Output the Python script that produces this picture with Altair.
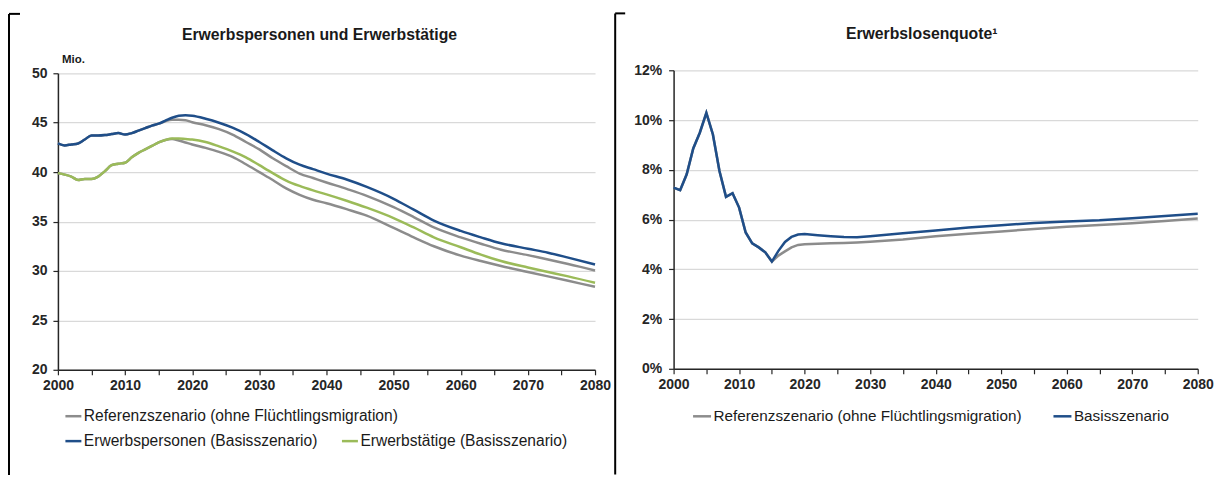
import altair as alt
import pandas as pd

# ---------------- data ----------------
years_left = list(range(2000, 2021)) + [2022, 2024, 2026, 2028, 2030, 2032, 2034, 2036, 2038,
                                        2040, 2043, 2046, 2050, 2053, 2056, 2060, 2063, 2066,
                                        2070, 2073, 2076, 2080]

erwerbspersonen_basis = [42.9, 42.7, 42.8, 42.9, 43.3, 43.7, 43.7, 43.75, 43.85, 43.95, 43.8,
                         43.95, 44.2, 44.45, 44.7, 44.9, 45.2, 45.5, 45.7, 45.75, 45.7,
                         45.4, 45.0, 44.5, 43.85, 43.05, 42.2, 41.4, 40.75, 40.3,
                         39.85, 39.25, 38.5, 37.3, 36.2, 35.1, 34.05, 33.4, 32.8,
                         32.25, 31.85, 31.35, 30.65]

erwerbspersonen_ref = [42.9, 42.7, 42.8, 42.9, 43.3, 43.7, 43.7, 43.75, 43.85, 43.95, 43.8,
                       43.95, 44.2, 44.45, 44.7, 44.9, 45.15, 45.3, 45.3, 45.25, 45.05,
                       44.75, 44.35, 43.8, 43.05, 42.3, 41.4, 40.6, 39.85, 39.4,
                       38.95, 38.3, 37.6, 36.45, 35.45, 34.4, 33.4, 32.75, 32.15,
                       31.6, 31.15, 30.7, 30.05]

erwerbstaetige_basis = [39.9, 39.75, 39.55, 39.2, 39.3, 39.3, 39.55, 40.1, 40.7, 40.85, 40.95,
                        41.5, 41.95, 42.3, 42.65, 43.0, 43.25, 43.4, 43.4, 43.35, 43.3,
                        43.05, 42.6, 42.1, 41.5, 40.7, 39.9, 39.15, 38.6, 38.15,
                        37.75, 37.1, 36.4, 35.35, 34.4, 33.4, 32.4, 31.65, 31.0,
                        30.35, 29.9, 29.45, 28.8]

erwerbstaetige_ref = [39.9, 39.75, 39.55, 39.2, 39.3, 39.3, 39.55, 40.1, 40.7, 40.85, 40.95,
                      41.5, 41.95, 42.3, 42.65, 43.0, 43.25, 43.35, 43.2, 43.0, 42.8,
                      42.45, 42.05, 41.55, 40.8, 40.0, 39.2, 38.35, 37.7, 37.2,
                      36.85, 36.25, 35.6, 34.35, 33.4, 32.5, 31.55, 31.0, 30.5,
                      29.9, 29.45, 29.0, 28.4]

years_right = list(range(2000, 2021)) + [2022, 2024, 2026, 2028] + list(range(2030, 2081, 5))

quote_basis = [7.28, 7.18, 7.82, 8.86, 9.49, 10.29, 9.42, 7.95, 6.91, 7.06, 6.48,
               5.48, 5.04, 4.88, 4.68, 4.31, 4.74, 5.1, 5.3, 5.4, 5.42,
               5.37, 5.33, 5.3, 5.29,
               5.33, 5.45, 5.56, 5.68, 5.77, 5.86, 5.92, 5.97, 6.05, 6.14, 6.23]

quote_ref = [7.28, 7.18, 7.82, 8.86, 9.49, 10.29, 9.42, 7.95, 6.91, 7.06, 6.48,
             5.48, 5.04, 4.88, 4.68, 4.31, 4.55, 4.72, 4.88, 4.98, 5.01,
             5.03, 5.05, 5.06, 5.08,
             5.11, 5.2, 5.33, 5.43, 5.52, 5.62, 5.71, 5.78, 5.85, 5.94, 6.04]

left_title = "Erwerbspersonen und Erwerbstätige"
right_title = "Erwerbslosenquote\u00b9"
unit_label = "Mio."
ref_label = "Referenzszenario (ohne Flüchtlingsmigration)"
ep_label = "Erwerbspersonen (Basisszenario)"
et_label = "Erwerbstätige (Basisszenario)"
basis_label = "Basisszenario"

x_ticks = list(range(2000, 2081, 5))
left_y_ticks = [20, 25, 30, 35, 40, 45, 50]
right_y_ticks = [0, 2, 4, 6, 8, 10, 12]

# ---------------- styles ----------------
FONT = "Liberation Sans"
BLUE = "#1f4e89"
GREEN = "#9bbb59"
GREY = "#8c8c8c"
AXIS = "#262626"
GRID = "#d9d9d9"

# ---------------- tables ----------------
ref_left = pd.DataFrame({
    "year": years_left * 2,
    "value": erwerbspersonen_ref + erwerbstaetige_ref,
    "series": ["ref_ep"] * len(years_left) + ["ref_et"] * len(years_left),
    "lref": [ref_label] * (2 * len(years_left)),
})
basis_left = pd.DataFrame({
    "year": years_left * 2,
    "value": erwerbspersonen_basis + erwerbstaetige_basis,
    "lbasis": [ep_label] * len(years_left) + [et_label] * len(years_left),
})
ref_right = pd.DataFrame({"year": years_right, "value": quote_ref,
                          "lquote": [ref_label] * len(years_right)})
basis_right = pd.DataFrame({"year": years_right, "value": quote_basis,
                            "lquote": [basis_label] * len(years_right)})


def x_axis():
    return alt.Axis(values=x_ticks, format="d",
                    labelExpr="datum.value % 10 == 0 ? datum.label : ''",
                    grid=False, tickSize=5, tickColor=AXIS, tickWidth=1.2,
                    domainColor=AXIS, domainWidth=1.5,
                    labelFont=FONT, labelFontSize=14, labelFontWeight="bold",
                    labelColor=AXIS, labelPadding=4, labelFlush=False,
                    labelOverlap=False, title=None)


def y_axis(values, expr=None, pad=6):
    kw = dict(values=values, grid=True, gridColor=GRID, gridWidth=1.2,
              tickSize=5, tickColor=AXIS, tickWidth=1.2,
              domainColor=AXIS, domainWidth=1.5,
              labelFont=FONT, labelFontSize=14, labelFontWeight="bold",
              labelColor=AXIS, labelPadding=pad, labelOverlap=False, title=None)
    if expr:
        kw["labelExpr"] = expr
    return alt.Axis(**kw)


def legend(x, y, size, colpad, fsize=15.6):
    return alt.Legend(orient="none", legendX=x, legendY=y, direction="horizontal",
                      title=None, symbolType="stroke", symbolSize=size,
                      symbolStrokeWidth=2.5, labelFont=FONT, labelFontSize=fsize,
                      labelColor="#1a1a1a", labelOffset=1, columnPadding=colpad,
                      labelLimit=0, padding=0)


def text_layer(txt, x, y, size, weight="bold", align="center"):
    return alt.Chart(pd.DataFrame({"t": [txt]})).mark_text(
        font=FONT, fontSize=size, fontWeight=weight, color="#1a1a1a",
        align=align, baseline="alphabetic").encode(
        text="t:N", x=alt.value(x), y=alt.value(y))


def bracket(xv, ytop, ybot, xend):
    d = pd.DataFrame({"a": [0]})
    v = alt.Chart(d).mark_rule(color="black", strokeWidth=2).encode(
        x=alt.value(xv), y=alt.value(ytop), y2=alt.value(ybot))
    h = alt.Chart(d).mark_rule(color="black", strokeWidth=2).encode(
        x=alt.value(xv), x2=alt.value(xend), y=alt.value(ytop))
    return v + h


# ---------------- left panel ----------------
LW, LH = 538, 297
xl = alt.X("year:Q", scale=alt.Scale(domain=[2000, 2080], nice=False, zero=False), axis=x_axis())
yl = alt.Y("value:Q", scale=alt.Scale(domain=[20, 50], nice=False, zero=False),
           axis=y_axis(left_y_ticks))

grey_l = alt.Chart(ref_left).mark_line(strokeWidth=2.5, interpolate="monotone").encode(
    x=xl, y=yl, detail="series:N",
    stroke=alt.Stroke("lref:N", scale=alt.Scale(domain=[ref_label], range=[GREY]),
                      legend=legend(6, 334, 256, 18)))
basis_l = alt.Chart(basis_left).mark_line(strokeWidth=2.5, interpolate="monotone").encode(
    x=xl, y=yl,
    color=alt.Color("lbasis:N", scale=alt.Scale(domain=[ep_label, et_label], range=[BLUE, GREEN]),
                    legend=legend(6, 358.5, 256, 18)))

left = alt.layer(
    grey_l, basis_l,
    text_layer(left_title, 262, -33.5, 15.8),
    text_layer(unit_label, 4, -10.5, 11.5, align="left"),
    bracket(-49, -59.5, 402.5, -38),
).properties(width=LW, height=LH)

# ---------------- right panel ----------------
RW, RH = 525, 296
xr = alt.X("year:Q", scale=alt.Scale(domain=[2000, 2080], nice=False, zero=False), axis=x_axis())
yr = alt.Y("value:Q", scale=alt.Scale(domain=[0, 12], nice=False, zero=True, range=[296, -3]),
           axis=y_axis(right_y_ticks, expr="datum.value + '%'", pad=7))
stroke_r = alt.Stroke("lquote:N", scale=alt.Scale(domain=[ref_label, basis_label], range=[GREY, BLUE]),
                      legend=legend(18, 333, 324, 26, fsize=15.3))

grey_r = alt.Chart(ref_right).mark_line(strokeWidth=2.5).encode(x=xr, y=yr, stroke=stroke_r)
basis_r = alt.Chart(basis_right).mark_line(strokeWidth=2.5).encode(x=xr, y=yr, stroke=stroke_r)

right = alt.layer(
    grey_r, basis_r,
    text_layer(right_title, 248.5, -34, 15.8),
    bracket(-58.5, -60, 402, -48.5),
).properties(width=RW, height=RH)

chart = alt.hconcat(left, right, spacing=2.7).resolve_scale(
    color="independent", stroke="independent", x="independent", y="independent"
).properties(
    padding={"left": 0, "top": 4, "right": 0, "bottom": 0},
    background="white",
).configure_view(strokeWidth=0)

chart.save("out.html", embed_options={"renderer": "svg", "actions": False})
